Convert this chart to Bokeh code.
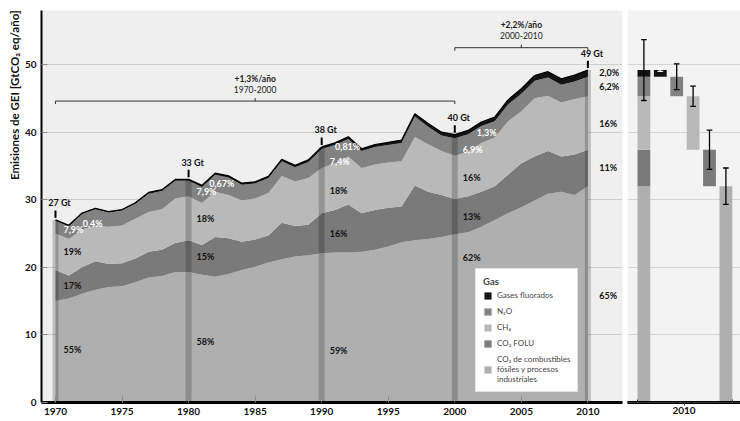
from bokeh.plotting import figure
from bokeh.layouts import row
from bokeh.models import (ColumnDataSource, Range1d, FixedTicker, Legend, LegendItem,
                          Title, LinearAxis)
from bokeh.core.properties import value
from bokeh.embed import file_html
from bokeh.resources import INLINE

# ---------------- data (GtCO2-eq / year) ----------------
years = list(range(1970, 2011))
co2_fosil = [15.0, 15.4, 16.1, 16.7, 17.1, 17.2, 17.8, 18.5, 18.7, 19.3,
             19.3, 18.9, 18.6, 19.0, 19.6, 20.1, 20.7, 21.2, 21.6, 21.8,
             22.1, 22.2, 22.2, 22.3, 22.6, 23.1, 23.7, 24.0, 24.2, 24.5,
             24.9, 25.2, 26.0, 27.0, 28.0, 28.9, 29.9, 30.9, 31.2, 30.7,
             32.0]
co2_folu = [4.6, 3.4, 3.9, 4.2, 3.4, 3.4, 3.5, 3.8, 3.9, 4.3,
            4.7, 4.4, 5.9, 5.3, 4.2, 4.0, 4.0, 5.4, 4.5, 4.5,
            5.9, 6.3, 7.1, 5.7, 5.9, 5.7, 5.3, 8.1, 7.0, 6.2,
            5.2, 5.3, 5.2, 5.0, 5.7, 6.5, 6.5, 6.3, 5.2, 6.0,
            5.4]
ch4 = [5.4, 5.4, 5.6, 5.3, 5.5, 5.6, 5.9, 5.9, 6.0, 6.6,
       6.5, 6.2, 6.7, 6.4, 6.1, 6.1, 6.3, 6.9, 6.6, 6.9,
       6.7, 6.9, 7.1, 6.7, 6.7, 6.7, 6.7, 7.2, 7.0, 6.5,
       6.4, 6.6, 7.2, 7.2, 7.9, 7.7, 8.6, 8.2, 8.0, 8.2,
       7.9]
n2o = [1.9, 1.9, 2.3, 2.4, 2.1, 2.2, 2.2, 2.7, 2.7, 2.6,
       2.3, 2.4, 2.5, 2.6, 2.3, 2.2, 2.2, 2.2, 2.1, 2.4,
       2.8, 2.7, 2.6, 2.5, 2.6, 2.6, 2.7, 3.0, 2.6, 2.3,
       2.6, 2.6, 2.5, 2.4, 2.5, 2.6, 2.6, 2.7, 2.6, 2.6,
       2.9]
fgas = [0.12, 0.12, 0.13, 0.14, 0.15, 0.15, 0.16, 0.17, 0.18, 0.20,
        0.22, 0.22, 0.23, 0.24, 0.24, 0.25, 0.26, 0.27, 0.28, 0.29,
        0.31, 0.31, 0.32, 0.33, 0.35, 0.37, 0.40, 0.43, 0.46, 0.49,
        0.52, 0.55, 0.58, 0.62, 0.67, 0.72, 0.78, 0.84, 0.89, 0.93,
        0.98]

decades = [1970, 1980, 1990, 2000, 2010]
share_fosil = ["55%", "58%", "59%", "62%", "65%"]
share_folu = ["17%", "15%", "16%", "13%", "11%"]
share_ch4 = ["19%", "18%", "18%", "16%", "16%"]
share_n2o = ["7,9%", "7,9%", "7,4%", "6,9%", "6,2%"]
share_fgas = ["0,4%", "0,67%", "0,81%", "1,3%", "2,0%"]
total_labels = ["27 Gt", "33 Gt", "38 Gt", "40 Gt", "49 Gt"]

growth_periods = [(1970, 2000), (2000, 2010)]
growth_rates = ["+1,3%/año", "+2,2%/año"]
growth_names = ["1970-2000", "2000-2010"]

# 2010 uncertainty panel (order: total, F-gases, N2O, CH4, CO2 FOLU, CO2 fossil)
bar_pos = [1, 2, 3, 4, 5, 6]
bar_err = [4.5, 0.2, 1.9, 1.5, 2.9, 2.7]
panel_year = "2010"

x_ticks = [1970, 1975, 1980, 1985, 1990, 1995, 2000, 2005, 2010]
y_ticks = [0, 10, 20, 30, 40, 50]

gas_names = ["Gases fluorados", "N\u2082O", "CH\u2084", "CO\u2082 FOLU",
             "CO\u2082 de combustibles\nfósiles y procesos\nindustriales"]

# ---------------- layout constants / styles ----------------
C_FOS, C_FOLU, C_CH4, C_N2O, C_F = "#afafaf", "#7a7a7a", "#b9b9b9", "#828282", "#141414"
BG = "#efefef"
FONT = "Lato"
fosil_label_y = [7.9, 9.0, 7.7, 21.4, 15.9]
f_label_dx = [2.8, 2.5, 1.95, 2.4]
bracket_y = [44.6, 52.5]

total = [a + b + c + d + e for a, b, c, d, e in zip(co2_fosil, co2_folu, ch4, n2o, fgas)]

src = ColumnDataSource(dict(year=years, fosil=co2_fosil, folu=co2_folu, ch4=ch4,
                            n2o=n2o, fgas=fgas, total=total))

p = figure(width=625, height=421, x_range=Range1d(1968.95, 2012.6), y_range=Range1d(0, 58),
           output_backend="svg", toolbar_location=None,
           min_border_left=41, min_border_right=3, min_border_top=10, min_border_bottom=19)
p.background_fill_color = BG
p.border_fill_color = "white"
p.outline_line_color = None
p.xgrid.visible = False
p.ygrid.ticker = FixedTicker(ticks=y_ticks[1:])
p.ygrid.grid_line_color = "#cdcdcd"

rs = p.varea_stack(stackers=["fosil", "folu", "ch4", "n2o", "fgas"], x="year",
                   color=[C_FOS, C_FOLU, C_CH4, C_N2O, C_F], source=src)
p.line("year", "total", source=src, line_color="black", line_width=1.3)

# highlighted decade strips
dec_idx = [years.index(d) for d in decades]
dec_tot = [total[k] for k in dec_idx]
p.vbar(x=decades, top=dec_tot, bottom=0, width=0.45, fill_color="black",
       fill_alpha=0.2, line_color=None)

# total markers
p.segment(x0=decades, x1=decades, y0=[t + 0.3 for t in dec_tot],
          y1=[t + 1.4 for t in dec_tot], line_color="black", line_width=2)
p.text(x=[d + 0.3 for d in decades], y=[t + 1.7 for t in dec_tot], text=total_labels,
       text_font=value(FONT), text_font_style="bold", text_font_size="9px",
       text_align="center", text_baseline="bottom", text_color="#111111")

# share labels
lx, ly, lt, lc = [], [], [], []
cx, cy, ct = [], [], []
for i, d in enumerate(decades):
    k = years.index(d)
    c1 = co2_fosil[k]
    c2 = c1 + co2_folu[k]
    c3 = c2 + ch4[k]
    c4 = c3 + n2o[k]
    c5 = c4 + fgas[k]
    if d < 2010:
        x0 = d + 0.6
        for yy, tt, col in [(fosil_label_y[i], share_fosil[i], "#111111"),
                            ((c1 + c2) / 2, share_folu[i], "#111111"),
                            ((c2 + c3) / 2, share_ch4[i], "#111111"),
                            ((c3 + c4) / 2 - 0.4, share_n2o[i], "white")]:
            lx.append(x0); ly.append(yy); lt.append(tt); lc.append(col)
        kk = years.index(d + 2)
        cx.append(d + f_label_dx[i]); cy.append(total[kk] - 1.5); ct.append(share_fgas[i])
    else:
        x0 = d + 0.85
        for yy, tt in [(fosil_label_y[i], share_fosil[i]), ((c1 + c2) / 2, share_folu[i]),
                       ((c2 + c3) / 2, share_ch4[i]), ((c3 + c4) / 2, share_n2o[i]),
                       ((c4 + c5) / 2 + 0.1, share_fgas[i])]:
            lx.append(x0); ly.append(yy); lt.append(tt); lc.append("#111111")

p.text(x="x", y="y", text="t", text_color="c",
       source=ColumnDataSource(dict(x=lx, y=ly, t=lt, c=lc)),
       text_font=value(FONT), text_font_style="bold", text_font_size="9px",
       text_align="left", text_baseline="middle")
p.text(x=cx, y=cy, text=ct, text_color="white",
       text_font=value(FONT), text_font_style="bold", text_font_size="9px",
       text_align="center", text_baseline="middle")

# growth brackets
bxs, bys = [], []
for (a, b), yb in zip(growth_periods, bracket_y):
    m = (a + b) / 2
    bxs += [[a, a, b, b], [m, m]]
    bys += [[yb - 0.45, yb, yb, yb - 0.45], [yb, yb + 0.45]]
p.multi_line(xs=bxs, ys=bys, line_color="#333333", line_width=1)
p.text(x=[(a + b) / 2 for a, b in growth_periods], y=[yb + 3.3 for yb in bracket_y],
       text=growth_rates, text_font=value(FONT), text_font_style="bold",
       text_font_size="8.5px", text_align="center", text_baseline="middle", text_color="#222222")
p.text(x=[(a + b) / 2 for a, b in growth_periods], y=[yb + 1.75 for yb in bracket_y],
       text=growth_names, text_font=value(FONT), text_font_size="8.5px",
       text_align="center", text_baseline="middle", text_color="#222222")

# axes
p.xaxis.ticker = FixedTicker(ticks=x_ticks)
p.yaxis.ticker = FixedTicker(ticks=y_ticks)
for ax in (p.xaxis[0], p.yaxis[0]):
    ax.axis_line_color = "black"
    ax.major_tick_in = 6
    ax.major_tick_out = 0
    ax.minor_tick_line_color = None
    ax.major_tick_line_color = "#8a8a8a"
    ax.major_label_text_font = FONT
    ax.major_label_text_font_style = "bold"
    ax.major_label_text_font_size = "10px"
    ax.major_label_text_color = "#111111"
p.xaxis.axis_line_width = 3
p.yaxis.axis_line_width = 2
p.xaxis.major_label_standoff = 5
p.yaxis.major_label_standoff = 5

p.add_layout(Title(text="Emisiones de GEI [GtCO\u2082 eq/año]", align="right",
                   text_font=FONT, text_font_style="bold", text_font_size="11.5px",
                   text_color="#111111", standoff=1, offset=0), "left")

legend = Legend(items=[LegendItem(label=gas_names[0], renderers=[rs[4]]),
                       LegendItem(label=gas_names[1], renderers=[rs[3]]),
                       LegendItem(label=gas_names[2], renderers=[rs[2]]),
                       LegendItem(label=gas_names[3], renderers=[rs[1]]),
                       LegendItem(label=gas_names[4], renderers=[rs[0]])],
                location=(434, 10), title="Gas", title_text_font=FONT,
                title_text_font_style="bold", title_text_font_size="9.5px", title_standoff=3,
                label_text_font=FONT, label_text_font_size="8px", label_height=9,
                glyph_height=9, glyph_width=9, spacing=6, padding=7, margin=0,
                label_standoff=5, border_line_color="#c8c8c8", background_fill_alpha=1)
p.add_layout(legend)

# ---------------- right panel: 2010 with uncertainties ----------------
k = years.index(2010)
c1 = co2_fosil[k]
c2 = c1 + co2_folu[k]
c3 = c2 + ch4[k]
c4 = c3 + n2o[k]
c5 = c4 + fgas[k]

p2 = figure(width=115, height=421, x_range=Range1d(0, 6.89), y_range=Range1d(0, 58),
            output_backend="svg", toolbar_location=None, x_axis_location=None,
            y_axis_location=None, min_border_left=2, min_border_right=0,
            min_border_top=10, min_border_bottom=19)
p2.background_fill_color = "#f3f3f3"
p2.border_fill_color = "white"
p2.outline_line_color = None
p2.xgrid.visible = False
p2.ygrid.ticker = FixedTicker(ticks=y_ticks[1:])
p2.ygrid.grid_line_color = "#d4d4d4"

w = 0.78
p2.vbar(x=[bar_pos[0]] * 5, bottom=[0, c1, c2, c3, c4], top=[c1, c2, c3, c4, c5], width=w,
        fill_color=[C_FOS, C_FOLU, C_CH4, C_N2O, C_F], line_color=None)
p2.vbar(x=bar_pos[1:], bottom=[c4, c3, c2, c1, 0], top=[c5, c4, c3, c2, c1], width=w,
        fill_color=[C_F, C_N2O, C_CH4, C_FOLU, C_FOS], line_color=None)
centers = [c5, c5, c4, c3, c2, c1]
ecol = ["black", "white", "black", "black", "black", "black"]
lo = [c - e for c, e in zip(centers, bar_err)]
hi = [c + e for c, e in zip(centers, bar_err)]
p2.segment(x0=bar_pos, x1=bar_pos, y0=lo, y1=hi, line_color=ecol, line_width=1.3)
cap = 0.17
p2.segment(x0=[x - cap for x in bar_pos] * 2, x1=[x + cap for x in bar_pos] * 2,
           y0=lo + hi, y1=lo + hi, line_color=ecol * 2, line_width=1.3)

# thick base line
base_axis = LinearAxis(ticker=FixedTicker(ticks=[]), axis_line_color="black", axis_line_width=3,
                       major_tick_in=0, major_tick_out=0, major_label_standoff=3,
                       major_label_text_font_size="1px")
p2.add_layout(base_axis, "below")
# bracket with year label
lft, rgt = bar_pos[0] - 0.4, bar_pos[-1] + 0.4
brace = LinearAxis(ticker=FixedTicker(ticks=[lft, rgt], minor_ticks=[(lft + rgt) / 2]),
                   axis_line_color="#333333", axis_line_width=1,
                   major_tick_in=3, major_tick_out=0, major_tick_line_color="#333333",
                   minor_tick_in=0, minor_tick_out=3, minor_tick_line_color="#333333",
                   major_label_overrides={lft: "", rgt: ""}, major_label_standoff=0,
                   major_label_text_font_size="1px",
                   axis_label=panel_year, axis_label_standoff=1,
                   axis_label_text_font=FONT, axis_label_text_font_style="bold",
                   axis_label_text_font_size="10px", axis_label_text_color="#111111")
p2.add_layout(brace, "below")

layout = row(p, p2, spacing=0)
open("out.html", "w").write(file_html(layout, INLINE))
